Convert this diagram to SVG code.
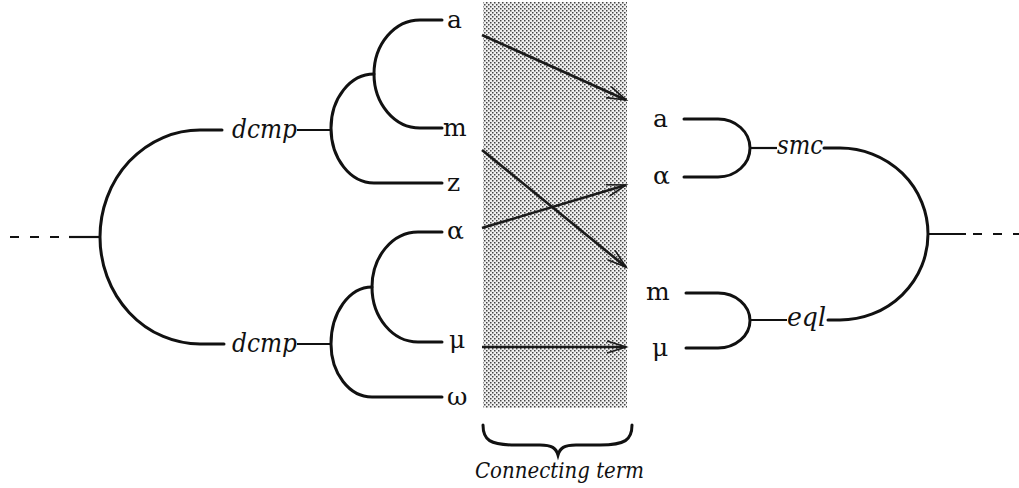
<svg xmlns="http://www.w3.org/2000/svg" width="1019" height="488" viewBox="0 0 1019 488">
<style>
.br{fill:none;stroke:#111;stroke-width:3;stroke-linecap:round}
.ln{fill:none;stroke:#111;stroke-width:2.2}
.ar{fill:none;stroke:#1a1a1a;stroke-width:2.6;marker-end:url(#vh)}
.dash{fill:none;stroke:#111;stroke-width:2.2;stroke-dasharray:9 11}
text{font-family:'DejaVu Serif','Liberation Serif',serif;fill:#111}
.lab{font-size:25px}
.fn{font-style:italic;font-size:26px}
.cap{font-style:italic;font-size:22px}
</style>
<defs>
<pattern id="dots" width="4" height="4" patternUnits="userSpaceOnUse">
<rect width="4" height="4" fill="#f0f0f0"/>
<rect x="0" y="0" width="1.5" height="1.5" fill="#444"/>
<rect x="2" y="2" width="1.5" height="1.5" fill="#444"/>
</pattern>
<marker id="vh" markerUnits="userSpaceOnUse" markerWidth="24" markerHeight="16" viewBox="-20 -8 22 16" refX="0" refY="0" orient="auto">
<path d="M-19,-6 L0,0 L-19,6" fill="none" stroke="#1a1a1a" stroke-width="1.6"/>
</marker>
</defs>
<rect x="483" y="2" width="144" height="406" fill="url(#dots)"/>
<g id="left-root">
<path class="dash" d="M10,237 H62"/>
<path class="ln" d="M69,237 H100"/>
<path class="br" d="M222,130 H200 A100,107 0 0 0 100,237 A100,107 0 0 0 200,344 H224"/>
</g>
<g id="dcmp-upper">
<text class="fn" x="232" y="138" textLength="65" lengthAdjust="spacingAndGlyphs">dcmp</text>
<path class="ln" d="M297,130 H331"/>
<path class="br" d="M442,20 H420 A46,54 0 0 0 374,74 A46,54 0 0 0 420,128 H442"/>
<path class="br" d="M374,74 A43,54 0 0 0 331,128 A43,55 0 0 0 374,183 H442"/>
<text class="lab" x="447" y="28">a</text>
<text class="lab" x="443" y="136">m</text>
<text class="lab" x="447" y="191">z</text>
<text class="lab" x="447" y="239">α</text>
</g>
<g id="dcmp-lower">
<text class="fn" x="232" y="352" textLength="65" lengthAdjust="spacingAndGlyphs">dcmp</text>
<path class="ln" d="M297,344 H331"/>
<path class="br" d="M442,232 H418 A46,55 0 0 0 372,287 A46,55 0 0 0 418,342 H442"/>
<path class="br" d="M372,287 A41,57 0 0 0 331,344 A41,53 0 0 0 372,397 H442"/>
<text class="lab" x="449" y="348">μ</text>
<text class="lab" x="447" y="405">ω</text>
</g>
<g id="smc">
<text class="lab" x="653" y="127">a</text>
<text class="lab" x="653" y="184">α</text>
<path class="br" d="M684,119 H718 A32,29 0 0 1 750,148 A32,29 0 0 1 718,177 H684"/>
<path class="ln" d="M750,148 H777"/>
<text class="fn" x="777" y="154" textLength="46" lengthAdjust="spacingAndGlyphs">smc</text>
</g>
<g id="eql">
<text class="lab" x="646" y="300">m</text>
<text class="lab" x="652" y="356">μ</text>
<path class="br" d="M686,293 H718 A32,27.5 0 0 1 750,320.5 A32,27.5 0 0 1 718,348 H686"/>
<path class="ln" d="M750,320 H787"/>
<text class="fn" x="787" y="326" textLength="39" lengthAdjust="spacingAndGlyphs">eql</text>
</g>
<g id="right-root">
<path class="br" d="M824,148 H840 A88,86 0 0 1 928,234 A88,86 0 0 1 840,320 H828"/>
<path class="ln" d="M928,234 H966"/>
<path class="dash" d="M973,234 H1019"/>
</g>
<g id="connectors">
<path class="ar" d="M482,35 L626,100"/>
<path class="ar" d="M482,150 L626,267"/>
<path class="ar" d="M482,228 L626,185"/>
<path class="ar" d="M482,347 L626,347"/>
</g>
<g id="brace">
<path class="br" d="M483,425 C483,440 490,445 515,445 L540,445 C552,445 556,448 558,455 C560,448 564,445 576,445 L600,445 C625,445 632,440 632,425"/>
<text class="cap" x="475" y="478" textLength="169" lengthAdjust="spacingAndGlyphs">Connecting term</text>
</g>
</svg>
